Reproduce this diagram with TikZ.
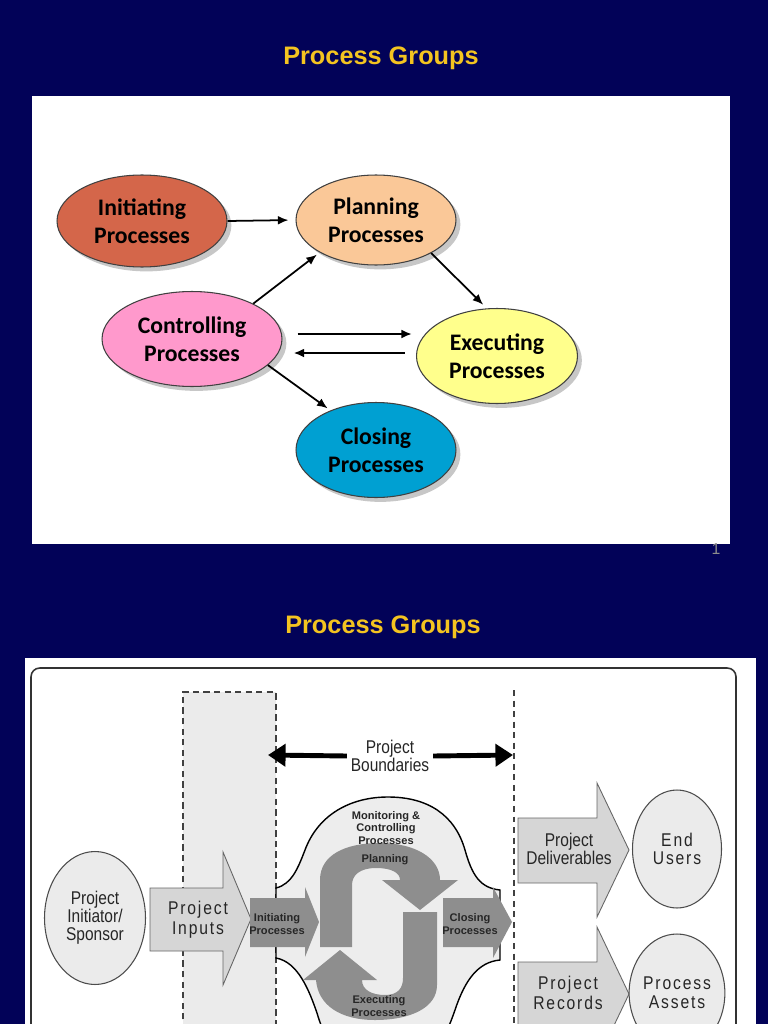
\documentclass[tikz,border=0pt]{standalone}
\usepackage{fontspec}
\setmainfont{Liberation Sans}
\newfontfamily\calibrifont{Carlito}
\newfontfamily\narrowfont[FakeStretch=0.84]{Liberation Sans}
\newfontfamily\spacedfont[FakeStretch=0.85,LetterSpace=10]{Liberation Sans}
\usetikzlibrary{shapes,arrows.meta,positioning,shadows,calc}
\definecolor{slidebg}{RGB}{2,2,88}
\definecolor{titlegold}{RGB}{244,196,32}
\definecolor{initred}{RGB}{212,102,74}
\definecolor{planpeach}{RGB}{250,200,152}
\definecolor{ctrlpink}{RGB}{255,153,204}
\definecolor{execyellow}{RGB}{255,255,140}
\definecolor{closeblue}{RGB}{0,160,210}
\definecolor{blobgrey}{RGB}{237,237,237}
\definecolor{cyclegrey}{RGB}{142,142,142}
\definecolor{blockgrey}{RGB}{214,214,214}

\begin{document}
\begin{tikzpicture}[x=0.02cm, y=-0.02cm,
    slidetitle/.style={text=titlegold, font=\fontsize{14.4}{17}\selectfont\bfseries},
    procgroup/.style={ellipse, draw=black!75, line width=0.6pt, inner sep=0pt, align=center,
        minimum width=3.2cm, minimum height=1.9cm,
        font=\calibrifont\bfseries\fontsize{13.5}{16}\selectfont,
        drop shadow={shadow xshift=2.5pt, shadow yshift=-2.5pt, fill=black!40, opacity=0.55}},
    flowarrow/.style={line width=1pt, -{Latex[length=6pt,width=5pt]}},
    bigarrow/.style={line width=2.8pt, -{Triangle[length=10pt,width=12.5pt]}},
    dashcol/.style={black!75, line width=0.9pt, dash pattern=on 3.6pt off 2.4pt},
    entity/.style={ellipse, draw=black!70, line width=0.6pt, fill=black!8, inner sep=0pt, align=center, text=black!85},
    blockarrow/.style={fill=blockgrey, draw=black!60, line width=0.5pt},
    narrowlbl/.style={font=\narrowfont\fontsize{10.5}{10.3}\selectfont, align=center, text=black!85, inner sep=1pt},
    spacedlbl/.style={font=\spacedfont\fontsize{10.5}{11.3}\selectfont, align=center, text=black!85, inner sep=1pt},
    cyclabel/.style={font=\bfseries\fontsize{6.3}{7.2}\selectfont, align=center, text=black!85, inner sep=0pt}
]
    \useasboundingbox (0,0) rectangle (768,1024);
    \clip (0,0) rectangle (768,1024);
    \fill[slidebg] (0,0) rectangle (768,1024);

    \node[slidetitle] (title1) at (381,58) {Process Groups};
    \fill[white] (32,96) rectangle (730,544);
    \node[text=black!45, font=\fontsize{9}{10}\selectfont] (pgnum) at (716,549) {1};

    \node[procgroup, fill=initred, minimum width=3.4cm, minimum height=1.84cm] (init) at (142,221) {Initiating\\Processes};
    \node[procgroup, fill=planpeach, minimum height=1.8cm] (plan) at (376,220) {Planning\\Processes};
    \node[procgroup, fill=ctrlpink, minimum width=3.6cm] (ctrl) at (192,339) {Controlling\\Processes};
    \node[procgroup, fill=execyellow, minimum width=3.22cm] (exec) at (497,356) {Executing\\Processes};
    \node[procgroup, fill=closeblue] (clos) at (376,450) {Closing\\Processes};

    \draw[flowarrow, shorten >=4pt] (init.east) -- (plan.west);
    \draw[flowarrow, shorten >=2pt] (ctrl.30) -- (plan.210);
    \draw[flowarrow, shorten >=3pt] (plan.-31) -- (exec.102);
    \draw[flowarrow, line width=1.2pt] ($(ctrl.east)+(15,-5)$) -- ($(ctrl.east -| exec.west)+(-4,-5)$);
    \draw[flowarrow, line width=1.2pt] ($(ctrl.east -| exec.west)+(-11,14)$) -- ($(ctrl.east)+(11,14)$);
    \draw[flowarrow, shorten >=2pt] (ctrl.-19) -- (clos.139);

    \node[slidetitle] (title2) at (383,627) {Process Groups};
    \fill[white] (25,658) rectangle (756,1030);
    \draw[black!80, line width=0.9pt, rounded corners=5pt] (31,668) rectangle (736,1070);

    \fill[black!8] (183,692) rectangle (276,1030);
    \draw[dashcol] (183,1030) -- (183,692) -- (276,692) -- (276,1030);
    \draw[dashcol, line width=0.6pt, dash pattern=on 3.4pt off 2.6pt] (514,690) -- (514,1030);

    \node[narrowlbl] (bnd) at (390,756) {Project\\Boundaries};
    \coordinate (bndL) at (268,755);
    \coordinate (bndR) at (513,755);
    \draw[bigarrow] ([xshift=-1pt]bnd.west) -- (bndL);
    \draw[bigarrow] ([xshift=1pt]bnd.east) -- (bndR);

    \node[entity, minimum width=2.02cm, minimum height=2.66cm, font=\narrowfont\fontsize{10.5}{10.3}\selectfont] (spon) at (95,918) {Project\\Initiator/\\Sponsor};
    \filldraw[blockarrow] (150,888) -- (223,888) -- (223,852) -- (251,919) -- (223,985) -- (223,951) -- (150,951) -- cycle;
    \node[spacedlbl] (inputs) at (198,920) {Project\\Inputs};

    \filldraw[fill=blobgrey, draw=black, line width=0.8pt] (276,888) .. controls (292,884) and (298,868) .. (305,850)
        .. controls (318,815) and (350,797) .. (388,797) .. controls (428,797) and (455,815) .. (465,850)
        .. controls (472,875) and (480,888) .. (500,890) -- (500,960)
        .. controls (478,962) and (465,980) .. (455,1010) .. controls (448,1030) and (440,1050) .. (420,1060)
        -- (350,1060) .. controls (330,1050) and (322,1030) .. (317,1013)
        .. controls (309,990) and (298,962) .. (276,958) -- cycle;

    \fill[cyclegrey] (320,947) -- (320,880) .. controls (320,855) and (345,843) .. (380,843)
        .. controls (415,843) and (440,858) .. (440,880) -- (458,880) -- (420,910) -- (382,880) -- (400,880)
        .. controls (400,873) and (392,868) .. (376,868) .. controls (360,868) and (352,875) .. (352,885)
        -- (352,947) -- cycle;
    \fill[cyclegrey] (437,912) -- (437,985) .. controls (437,1008) and (410,1020) .. (375,1020)
        .. controls (340,1020) and (318,1005) .. (316,980) -- (303,980) -- (340,950) -- (377,980) -- (362,980)
        .. controls (362,990) and (372,995) .. (385,995) .. controls (398,995) and (403,988) .. (403,978)
        -- (403,912) -- cycle;
    \fill[cyclegrey] (250,898) -- (305,898) -- (305,887) -- (319,922) -- (305,957) -- (305,947) -- (250,947) -- cycle;
    \fill[cyclegrey] (443,898) -- (493,898) -- (493,887) -- (512,922) -- (493,958) -- (493,947) -- (443,947) -- cycle;

    \node[cyclabel] (monlbl) at (386,828) {Monitoring \&\\Controlling\\Processes};
    \node[cyclabel] (planlbl) at (385,860) {Planning};
    \node[cyclabel] (initlbl) at (277,924) {Initiating\\Processes};
    \node[cyclabel] (closlbl) at (470,924) {Closing\\Processes};
    \node[cyclabel] (execlbl) at (379,1006) {Executing\\Processes};

    \filldraw[blockarrow] (518,818) -- (597,818) -- (597,783) -- (629,850) -- (597,917) -- (597,883) -- (518,883) -- cycle;
    \node[narrowlbl] (deliv) at (569,849) {Project\\Deliverables};
    \filldraw[blockarrow] (518,962) -- (597,962) -- (597,927) -- (629,994) -- (597,1061) -- (597,1027) -- (518,1027) -- cycle;
    \node[spacedlbl] (recs) at (568,993) {Project\\Records};

    \node[entity, minimum width=1.78cm, minimum height=2.36cm, font=\spacedfont\fontsize{10.5}{10.3}\selectfont] (users) at (677,849) {End\\Users};
    \node[entity, minimum width=1.78cm, minimum height=2.36cm, font=\spacedfont\fontsize{10.5}{11}\selectfont] (assets) at (677,993) {Process\\Assets};
\end{tikzpicture}
\end{document}
